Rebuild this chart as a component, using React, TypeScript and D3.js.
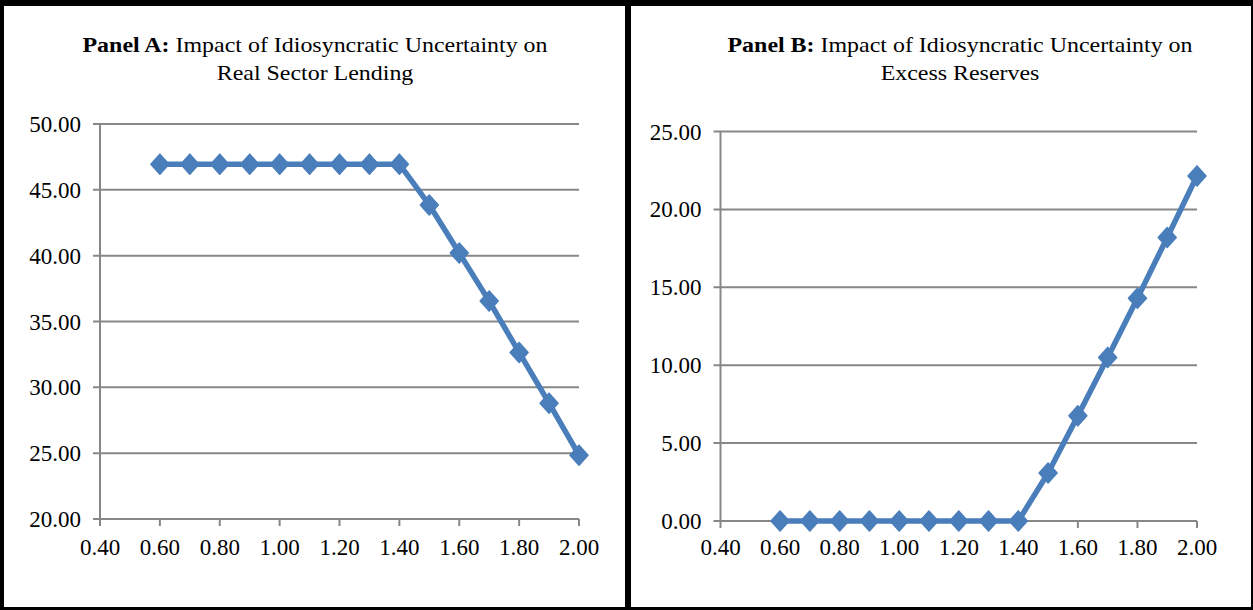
import React from 'react';
import * as d3 from 'd3';

// uncertainty levels (x)
const sigma = [0.6, 0.7, 0.8, 0.9, 1.0, 1.1, 1.2, 1.3, 1.4, 1.5, 1.6, 1.7, 1.8, 1.9, 2.0];
// Panel A: real sector lending
const lending = [46.95, 46.95, 46.95, 46.95, 46.95, 46.95, 46.95, 46.95, 46.95, 43.85, 40.2, 36.55, 32.65, 28.8, 24.85];
// Panel B: excess reserves
const reserves = [0, 0, 0, 0, 0, 0, 0, 0, 0, 3.08, 6.75, 10.5, 14.3, 18.2, 22.15];

const xTicks = [0.4, 0.6, 0.8, 1.0, 1.2, 1.4, 1.6, 1.8, 2.0];
const yTicksA = [20, 25, 30, 35, 40, 45, 50];
const yTicksB = [0, 5, 10, 15, 20, 25];

const FONT = "'Liberation Serif', 'Times New Roman', serif";
const BLUE = '#4A7EBB';
const GRID = '#878787';

const diamond = 'M0,-10L9,0L0,10L-9,0Z';

const Panel = ({ label, titleRest, line2, values, yTicks, left, right, top, bottom, cx }) => {
  const x = d3.scaleLinear().domain([0.4, 2.0]).range([left, right]);
  const y = d3.scaleLinear().domain(d3.extent(yTicks)).range([bottom, top]);
  const pts = sigma.map((s, i) => [x(s), y(values[i])]);
  const path = d3.line()(pts);
  return (
    <g fontFamily={FONT} fill="#000">
      {/* the reference title is slightly stretched horizontally */}
      <text transform={`translate(${cx},52) scale(1.14,1)`} textAnchor="middle" fontSize={21}>
        <tspan fontWeight="bold">{label}</tspan>
        <tspan>{' ' + titleRest}</tspan>
      </text>
      <text transform={`translate(${cx},80) scale(1.14,1)`} textAnchor="middle" fontSize={21}>
        {line2}
      </text>

      {yTicks.map(t => (
        <g key={'y' + t}>
          <line x1={left - 7} x2={right} y1={y(t)} y2={y(t)} stroke={GRID} strokeWidth={2} />
          <text x={left - 19} y={y(t)} dy="0.35em" textAnchor="end" fontSize={23}>
            {t.toFixed(2)}
          </text>
        </g>
      ))}
      <line x1={left} x2={left} y1={top} y2={bottom} stroke={GRID} strokeWidth={2} />
      {xTicks.map(t => (
        <g key={'x' + t}>
          <line x1={x(t)} x2={x(t)} y1={bottom} y2={bottom + 7} stroke={GRID} strokeWidth={2} />
          <text x={x(t)} y={555} textAnchor="middle" fontSize={23}>
            {t.toFixed(2)}
          </text>
        </g>
      ))}

      <path d={path} fill="none" stroke={BLUE} strokeWidth={5.5} strokeLinejoin="round" />
      {pts.map(([px, py], i) => (
        <path
          key={i}
          d={diamond}
          transform={`translate(${px},${py})`}
          fill={BLUE}
          stroke={BLUE}
          strokeWidth={1.5}
          strokeLinejoin="round"
        />
      ))}
    </g>
  );
};

export default function App() {
  const W = 1253;
  const H = 610;
  return (
    <svg width={W} height={H} style={{ position: 'absolute', left: 0, top: 0, background: '#fff' }}>
      <rect x={0} y={0} width={W} height={H} fill="#fff" />
      <Panel
        label="Panel A:"
        titleRest="Impact of Idiosyncratic Uncertainty on"
        line2="Real Sector Lending"
        values={lending}
        yTicks={yTicksA}
        left={100}
        right={579}
        top={124}
        bottom={519}
        cx={315}
      />
      <Panel
        label="Panel B:"
        titleRest="Impact of Idiosyncratic Uncertainty on"
        line2="Excess Reserves"
        values={reserves}
        yTicks={yTicksB}
        left={720.5}
        right={1197}
        top={131.5}
        bottom={521}
        cx={960}
      />
      {/* frame */}
      <rect x={0} y={0} width={W} height={6} fill="#000" />
      <rect x={0} y={0} width={4} height={H} fill="#000" />
      <rect x={625} y={0} width={6} height={H} fill="#000" />
      <rect x={0} y={607} width={W} height={3} fill="#000" />
      <rect x={1251} y={0} width={2} height={H} fill="#000" />
    </svg>
  );
}
